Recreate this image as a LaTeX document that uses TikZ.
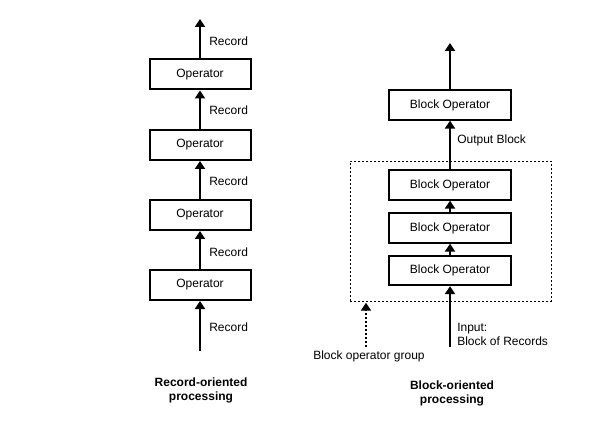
\documentclass[tikz,border=0pt]{standalone}
\usepackage{fontspec}
\setmainfont{Liberation Sans}
\usepackage{tikz}
\usetikzlibrary{arrows.meta, positioning, calc}

\begin{document}
\begin{tikzpicture}[x=0.75pt, y=-0.75pt,
    opbox/.style={draw, line width=1.5pt, minimum width=75.75pt,
        minimum height=22.5pt, inner sep=0pt, font=\fontsize{9}{11}\selectfont},
    bopbox/.style={draw, line width=1.5pt, minimum width=91.5pt,
        minimum height=22pt, inner sep=0pt, font=\fontsize{9}{11}\selectfont},
    flow/.style={line width=1.5pt, -{Triangle[width=7.5pt, length=6pt]}},
    lbl/.style={anchor=west, inner sep=0pt, font=\fontsize{9}{10.5}\selectfont},
    capt/.style={align=center, inner sep=0pt, font=\fontsize{9}{10.5}\selectfont\bfseries}
]
    \useasboundingbox (0,0) rectangle (602,427);

    % record-oriented side
    \node[opbox] (op1) at (200,74.5) {Operator};
    \node[opbox] (op2) at (200,145) {Operator};
    \node[opbox] (op3) at (200,215) {Operator};
    \node[opbox] (op4) at (200,285) {Operator};
    \coordinate (rtop) at (200,19);
    \coordinate (rin) at (200,351);
    \draw[flow] (op1.north) -- (rtop);
    \draw[flow] (op2.north) -- (op1.south);
    \draw[flow] (op3.north) -- (op2.south);
    \draw[flow] (op4.north) -- (op3.south);
    \draw[flow] (rin) -- (op4.south);
    \node[lbl] (rec1) at (209,41) {Record};
    \node[lbl] (rec2) at (209,110) {Record};
    \node[lbl] (rec3) at (209,181.5) {Record};
    \node[lbl] (rec4) at (209,252) {Record};
    \node[lbl] (rec5) at (209,327) {Record};
    \node[capt] (rcap) at (201,390) {Record-oriented\\processing};

    % block-oriented side
    \node[draw, dash pattern=on 1.5pt off 1.5pt, line width=0.6pt,
        minimum width=150.75pt, minimum height=105pt] (grp) at (450.5,231) {};
    \node[bopbox] (bop1) at (450,105) {Block Operator};
    \node[bopbox] (bop2) at (450,185) {Block Operator};
    \node[bopbox] (bop3) at (450,228) {Block Operator};
    \node[bopbox] (bop4) at (450,270.5) {Block Operator};
    \coordinate (btop) at (450,43);
    \coordinate (bin) at (450,347);
    \coordinate (gin) at (366,347);
    \draw[flow] (bop1.north) -- (btop);
    \draw[flow] (bop2.north) -- (bop1.south);
    \draw[flow] (bop3.north) -- (bop2.south);
    \draw[flow] (bop4.north) -- (bop3.south);
    \draw[flow] (bin) -- (bop4.south);
    \draw[flow, dash pattern=on 1.5pt off 1.5pt, shorten >=1pt] (gin) -- (gin |- grp.south);
    \node[lbl] (outb) at (457,140) {Output Block};
    \node[lbl, align=left] (inb) at (457,334) {Input:\\Block of Records};
    \node[lbl] (grpl) at (313,356) {Block operator group};
    \node[capt] (bcap) at (452,393) {Block-oriented\\processing};
\end{tikzpicture}
\end{document}
